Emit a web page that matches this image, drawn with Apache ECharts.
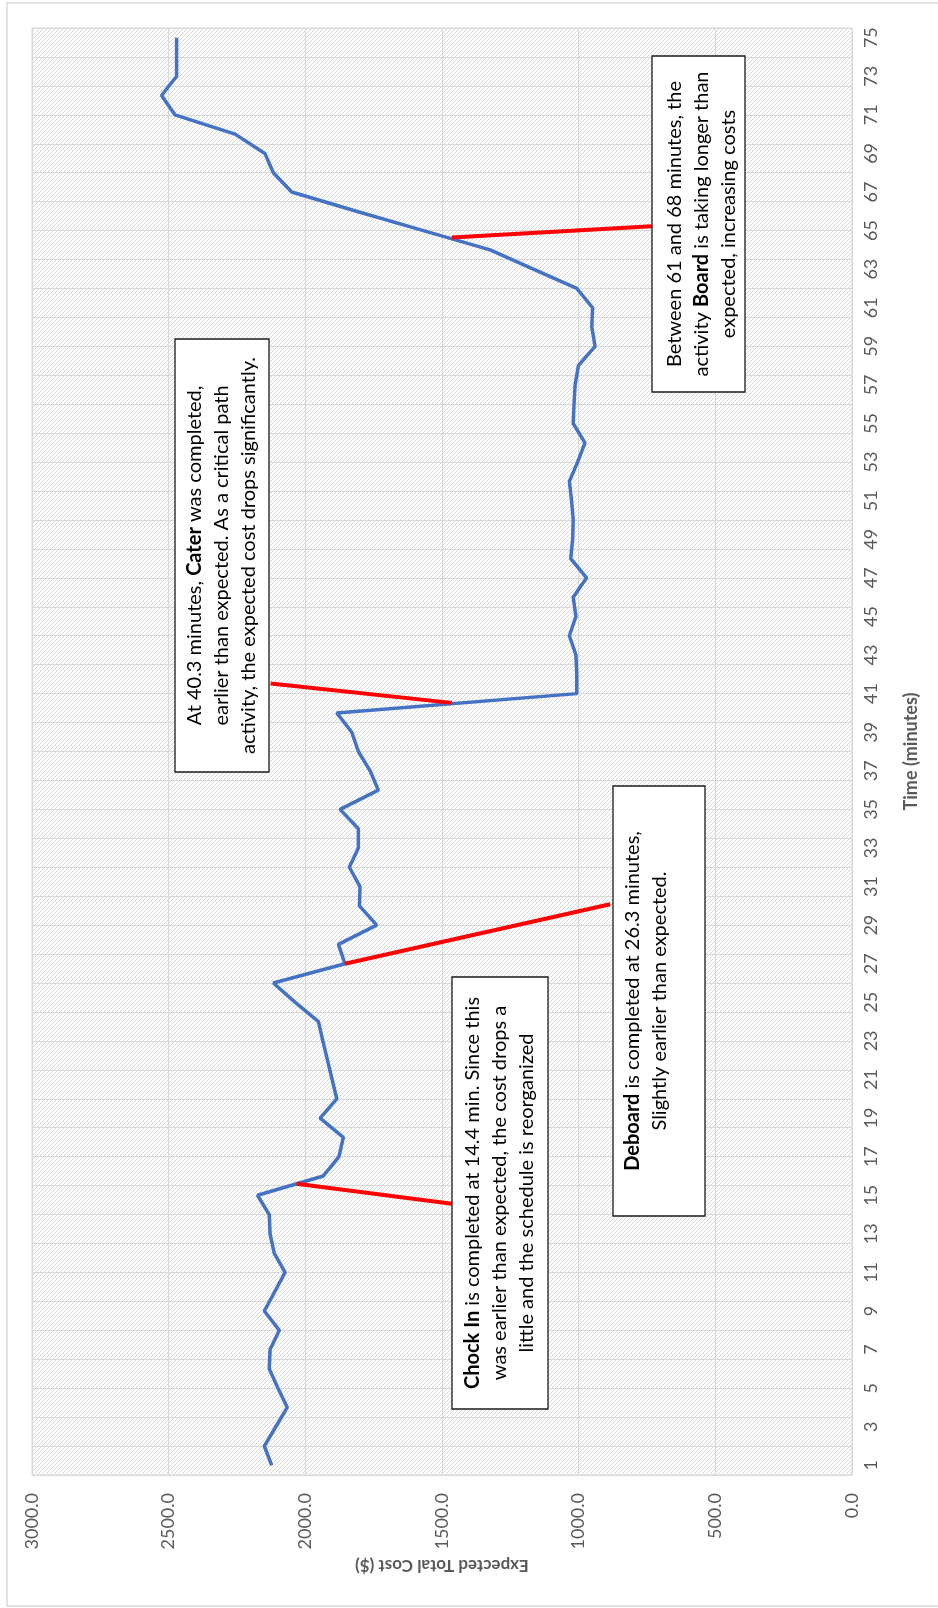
<!DOCTYPE html>
<html>
<head>
<meta charset="utf-8">
<script src="https://cdn.jsdelivr.net/npm/echarts@6/dist/echarts.min.js"></script>
<style>
html,body{margin:0;padding:0;background:#fff;}
#chart{width:938px;height:1608px;}
</style>
</head>
<body>
<div id="chart"></div>
<script>
// Time (minutes) categories
var times = ['1','2','3','4','5','6','7','8','9','10','11','12','13','14','15','16','17','18','19','20',
  '21','22','23','24','25','26','27','28','29','30','31','32','33','34','35','36','37','38','39','40',
  '41','42','43','44','45','46','47','48','49','50','51','52','53','54','55','56','57','58','59','60',
  '61','62','63','64','65','66','67','68','69','70','71','72','73','74','75'];
// Expected total cost ($)
var costs = [2123,2150,2108,2066,2100,2132,2129,2095,2150,2112,2074,2114,2129,2132,2175,
  1934,1877,1861,1946,1885,1902,1919,1936,1952,2037,2117,1855,1879,1739,1802,
  1800,1839,1806,1806,1873,1733,1763,1806,1830,1885,1007,1007,1010,1034,1010,
  1020,971,1029,1022,1020,1026,1034,1004,977,1020,1017,1013,1001,940,952,
  949,1007,1166,1324,1568,1813,2050,2117,2148,2257,2477,2526,2471,2471,2471];
// value-axis ticks
var costTicks = [0, 500, 1000, 1500, 2000, 2500, 3000];
// annotation pointer lines: [cost, time] endpoints
var pointerChockIn = [[2032, 15.6], [1464, 14.56]];
var pointerDeboard = [[1855, 27.0], [885, 30.08]];
var pointerCater   = [[1464, 40.52], [2127, 41.52]];
var pointerBoard   = [[1464, 64.64], [733, 65.23]];
// annotation texts
var noteChockIn = '{b|Chock In} is completed at 14.4 min. Since this\nwas earlier than expected, the cost drops a\nlittle and the schedule is reorganized';
var noteDeboard = '{b|Deboard} is completed at 26.3 minutes,\nSlightly earlier than expected.';
var noteCater = 'At 40.3 minutes, {b|Cater} was completed,\nearlier than expected. As a critical path\nactivity, the expected cost drops significantly.';
var noteBoard = 'Between 61 and 68 minutes, the\nactivity {b|Board} is taking longer than\nexpected, increasing costs';

var FONT = 'Lato, "Open Sans", sans-serif';
var NOTE_SIZE = 20;

// hatch pattern for the plot area
var pc = document.createElement('canvas');
pc.width = 8; pc.height = 8;
var pctx = pc.getContext('2d');
pctx.fillStyle = '#ffffff'; pctx.fillRect(0,0,8,8);
pctx.fillStyle = '#d8d8d8';
for (var py = 0; py < 8; py++) for (var px = 0; px < 8; px++) {
  if ((px + py) % 4 === 3) pctx.fillRect(px, py, 1, 1);
}

var chart = echarts.init(document.getElementById('chart'), null, {renderer:'canvas'});

function box(cx, cy, w, h, text, dy) {
  return {
    type: 'group', x: cx, y: cy, rotation: Math.PI/2, z: 100,
    children: [
      {type:'rect', shape:{x:-h/2, y:-w/2, width:h, height:w},
       style:{fill:'#ffffff', stroke:'#1a1a1a', lineWidth:1.3}, z:100},
      {type:'text', x:0, y:dy || 0, z:101,
       style:{text:text, fill:'#000000', fontSize:NOTE_SIZE, fontFamily:FONT,
              align:'center', verticalAlign:'middle', lineHeight:27,
              rich:{b:{fontWeight:'bold', fontSize:NOTE_SIZE, fontFamily:FONT, fill:'#000', lineHeight:27}}}}
    ]
  };
}

function pointer(pts) {
  return {type:'line', xAxisIndex:0, yAxisIndex:2, data:pts, symbol:'none', silent:true,
    lineStyle:{color:'#ff0000', width:4}, z:4, animation:false};
}

chart.setOption({
  animation:false,
  backgroundColor:'#ffffff',
  grid:{left:32, right:86, top:28, bottom:133, show:true,
        backgroundColor:{image:pc, repeat:'repeat'}, borderColor:'#d9d9d9', borderWidth:1},
  xAxis:{type:'value', inverse:true, min:costTicks[0], max:costTicks[costTicks.length-1], interval:500,
    position:'bottom',
    axisLine:{show:false}, axisTick:{show:false},
    splitLine:{show:true, lineStyle:{color:'#d9d9d9', width:1}},
    axisLabel:{rotate:90, margin:18, color:'#595959', fontSize:18, fontFamily:FONT,
      formatter:function(v){return v.toFixed(1);}},
    name:'Expected Total Cost ($)', nameLocation:'middle', nameRotate:180, nameGap:62,
    nameTextStyle:{color:'#595959', fontSize:17, fontWeight:'bold', fontFamily:FONT}
  },
  yAxis:[
    {type:'category', data:times, position:'right', boundaryGap:true,
     axisLine:{show:false}, axisTick:{show:false}, splitLine:{show:false},
     axisLabel:{interval:1, rotate:90, margin:10, color:'#595959', fontSize:18, fontFamily:FONT},
     name:'Time (minutes)', nameLocation:'middle', nameRotate:90, nameGap:50,
     nameTextStyle:{color:'#595959', fontSize:18, fontWeight:'bold', fontFamily:FONT}
    },
    {type:'value', min:0, max:50, interval:1, position:'left',
     axisLine:{show:false}, axisTick:{show:false}, axisLabel:{show:false},
     splitLine:{show:true, lineStyle:{color:'#d9d9d9', width:1}}},
    {type:'value', min:0.5, max:75.5, position:'left',
     axisLine:{show:false}, axisTick:{show:false}, axisLabel:{show:false}, splitLine:{show:false}}
  ],
  series:[
    {type:'line', xAxisIndex:0, yAxisIndex:0,
     data:costs.map(function(c,i){return [c, times[i]];}),
     symbol:'none', lineStyle:{color:'#4472C4', width:3.5}, z:3},
    pointer(pointerChockIn), pointer(pointerDeboard), pointer(pointerCater), pointer(pointerBoard)
  ],
  graphic:[
    {type:'rect', shape:{x:7, y:3, width:960, height:1603}, style:{fill:'none', stroke:'#d9d9d9', lineWidth:1.5}, silent:true, z:0},
    box(500, 1193, 96, 432, noteChockIn, 0),
    box(659, 1001, 92, 430, noteDeboard, -12.5),
    box(222, 555.5, 94, 433, noteCater, 0),
    box(698.5, 224, 93, 336, noteBoard, 3)
  ]
});
</script>
</body>
</html>
